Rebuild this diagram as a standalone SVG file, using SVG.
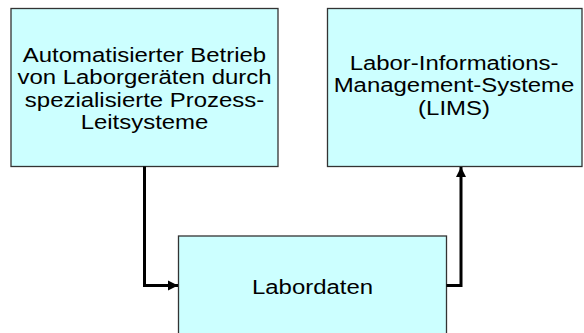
<svg xmlns="http://www.w3.org/2000/svg" width="584" height="333" viewBox="0 0 584 333">
  <style>
    .box { fill: #CCFFFF; stroke: #333333; stroke-width: 1.3; }
    .lbl { font-family: "Liberation Sans", Arial, sans-serif; font-size: 21px; fill: #000000; text-anchor: middle; }
    .wire { fill: none; stroke: #000000; stroke-width: 3; }
  </style>
  <defs>
    <marker id="arrow" viewBox="0 0 10 10" refX="10" refY="5" markerWidth="3.4" markerHeight="3.4" orient="auto" markerUnits="strokeWidth">
      <path d="M0,0 L10,5 L0,10 z" fill="#000000"/>
    </marker>
  </defs>

  <!-- labels use a slightly widened Arial: matrix(1.14 0 0 1 cx baseline) -->
  <g id="node-prozess">
    <rect class="box" x="11" y="8.5" width="267" height="158"/>
    <text class="lbl" transform="matrix(1.14 0 0 1 144.5 61.5)">Automatisierter Betrieb</text>
    <text class="lbl" transform="matrix(1.14 0 0 1 144.5 84)">von Laborgeräten durch</text>
    <text class="lbl" transform="matrix(1.14 0 0 1 144.5 106.5)">spezialisierte Prozess-</text>
    <text class="lbl" transform="matrix(1.14 0 0 1 144.5 129)">Leitsysteme</text>
  </g>

  <g id="node-lims">
    <rect class="box" x="327.5" y="8.5" width="254.5" height="158"/>
    <text class="lbl" transform="matrix(1.14 0 0 1 454 69.5)">Labor-Informations-</text>
    <text class="lbl" transform="matrix(1.14 0 0 1 454 92)">Management-Systeme</text>
    <text class="lbl" transform="matrix(1.14 0 0 1 454 114.5)">(LIMS)</text>
  </g>

  <g id="node-labordaten">
    <rect class="box" x="178.5" y="236" width="268" height="110"/>
    <text class="lbl" transform="matrix(1.14 0 0 1 312.5 293.5)">Labordaten</text>
  </g>

  <g id="connectors">
    <path class="wire" d="M144.5,166.5 V285.5 H178" marker-end="url(#arrow)"/>
    <path class="wire" d="M446.5,285.5 H461 V167" marker-end="url(#arrow)"/>
  </g>
</svg>
